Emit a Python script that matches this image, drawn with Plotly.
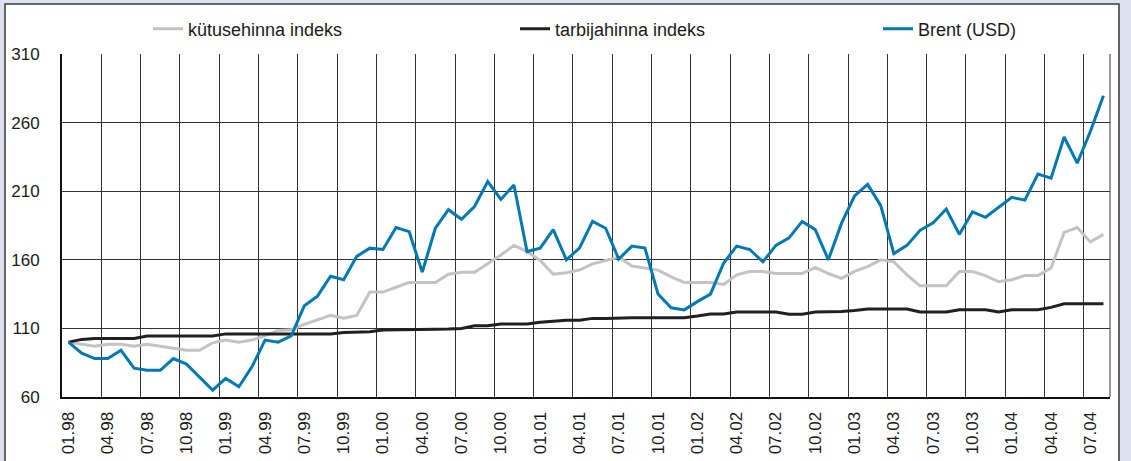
import plotly.graph_objects as go

# ---- data -------------------------------------------------------------
years = ["98", "99", "00", "01", "02", "03", "04"]
months = ["01", "02", "03", "04", "05", "06", "07", "08", "09", "10", "11", "12"]
categories = [m + "." + y for y in years for m in months][:80]   # 01.98 .. 08.04

tick_labels = ["01.98", "04.98", "07.98", "10.98",
               "01.99", "04.99", "07.99", "10.99",
               "01.00", "04.00", "07.00", "10.00",
               "01.01", "04.01", "07.01", "10.01",
               "01.02", "04.02", "07.02", "10.02",
               "01.03", "04.03", "07.03", "10.03",
               "01.04", "04.04", "07.04"]

kutus = [100, 98.3, 97, 98.5, 98.5, 97, 98.5, 97, 95.5, 94, 94, 99.5, 101.5, 100,
         101.5, 104.5, 108.5, 109, 113, 116.5, 119.5, 117.5, 119.5, 136.5, 136.5,
         140, 143.5, 143.5,
         143.5, 149.5, 151, 151, 157, 163.5, 170.5, 166, 159.5, 149.5, 150.5, 152.5,
         157, 159.5, 162, 155.5, 154, 152.5, 147.5, 143.5, 143.5, 143.5, 142, 149,
         151.5, 151.5,
         150, 150, 150, 154.5, 150, 146.5, 151.5, 155, 160, 158.5, 149, 141, 141,
         141, 151.5, 151.5, 148.5, 144, 145.5, 148.5, 148.5, 154, 180, 183.5, 173,
         178.5]

tarbija = [100, 102, 102.7, 102.7, 102.7, 102.7, 104.4, 104.4, 104.4, 104.4, 104.4,
           104.4, 106, 106, 106, 106, 106, 106, 106, 106, 106, 107, 107, 107.5,
           108.8, 108.8, 108.8, 108.8,
           109.3, 109.5, 110, 112, 112, 113.2, 113.2, 113.2, 114.4, 115, 116, 116,
           117.3, 117.3, 117.8, 117.8, 117.8, 117.8, 117.8, 117.8, 119, 120.5, 120.5,
           122, 122, 122,
           122, 120.4, 120.4, 122, 122, 122.4, 123, 124.1, 124.1, 124.1, 124.1, 122,
           122, 122, 123.6, 123.6, 123.6, 122, 123.6, 123.6, 123.6, 125.3, 128, 128,
           128, 128]

brent = [100, 92, 88, 88, 94, 81, 79.5, 79.5, 88, 84, 74.5, 65, 73.5, 67.5, 82,
         101.5, 100, 104.5, 126.5, 133.5, 148, 145.5, 162.5, 168.5, 167.5, 183.5,
         180.5, 151,
         183, 196.5, 189.5, 199, 217, 204, 214.5, 166, 168.5, 182, 160, 168.5, 188,
         183, 160.5, 170, 168.5, 135, 125, 123.5, 129.5, 135, 157.5, 170, 167.5,
         158.5,
         170.5, 176, 188, 182, 160, 186.5, 206.5, 215, 199.5, 164.5, 170.5, 181.5,
         187, 197, 178.5, 195, 191, 198, 205.5, 203.5, 222.5, 219.5, 249.5, 230.5,
         253.5, 279.5]

series_names = ["kütusehinna indeks", "tarbijahinna indeks", "Brent (USD)"]
series_colors = ["#c3c3c3", "#231f20", "#0079b2"]

# ---- figure -----------------------------------------------------------
W, H = 1131, 461
L, R, T, B = 62, 1110, 54, 397

x_idx = list(range(len(categories)))
tick_pos = [categories.index(t) for t in tick_labels]
grid_pos = [p - 0.5 for p in tick_pos[1:]]

font = "Arial, Liberation Sans, sans-serif"
fig = go.Figure()
legend_ids = ["legend", "legend2", "legend3"]
for name, vals, col, lg in zip(series_names, [kutus, tarbija, brent],
                               series_colors, legend_ids):
    fig.add_trace(go.Scatter(
        x=x_idx, y=vals, mode="lines", name=name, legend=lg,
        line=dict(color=col, width=3), hoverinfo="x+y",
        text=categories))

def px2px(px):
    return (px - L) / (R - L)

def py2py(py):
    return (B - py) / (B - T)

legend_common = dict(orientation="h", xref="container", yref="container",
                     yanchor="middle", xanchor="left",
                     font=dict(family=font, size=18, color="#1a1a1a"),
                     bgcolor="rgba(0,0,0,0)", borderwidth=0)
leg_x = [148, 515, 878]
layout_legends = {}
for lg, lx in zip(legend_ids, leg_x):
    layout_legends[lg] = dict(legend_common, x=lx / W, y=1 - 29 / H)

fig.update_layout(
    width=W, height=H,
    margin=dict(l=L, r=W - R, t=T, b=H - B, pad=0, autoexpand=False),
    paper_bgcolor="#dde0ef",
    plot_bgcolor="white",
    showlegend=True,
    font=dict(family=font, color="#1a1a1a"),
    shapes=[
        dict(type="rect", xref="paper", yref="paper", layer="below",
             x0=px2px(5), x1=px2px(1119), y0=py2py(520), y1=py2py(4),
             fillcolor="white", line=dict(color="#3a3a3a", width=1.5)),
        dict(type="line", xref="paper", yref="paper", layer="above",
             x0=1, x1=1, y0=0, y1=1, line=dict(color="#333333", width=1)),
    ],
    **layout_legends,
)

fig.update_xaxes(
    range=[-0.5, len(categories) - 0.5], automargin=False,
    tickmode="array", tickvals=tick_pos, ticktext=tick_labels,
    tickangle=-90, ticks="", showgrid=False,
    ticklabelstandoff=6,
    tickfont=dict(family=font, size=17, color="#1a1a1a"),
    showline=True, linecolor="#111111", linewidth=2,
    zeroline=False,
    minor=dict(tickmode="array", tickvals=grid_pos, showgrid=True,
               gridcolor="#333333", gridwidth=1, ticks=""),
)
fig.update_yaxes(
    range=[60, 310], tick0=60, dtick=50, automargin=False,
    ticks="", showgrid=True, gridcolor="#333333", gridwidth=1,
    ticklabelstandoff=17,
    tickfont=dict(family=font, size=17, color="#1a1a1a"),
    showline=True, linecolor="#111111", linewidth=2,
    zeroline=False,
)

fig.write_html("out.html",
               config={"displayModeBar": False},
               post_script="document.body.style.margin='0';"
                           "document.body.style.overflow='hidden';")
